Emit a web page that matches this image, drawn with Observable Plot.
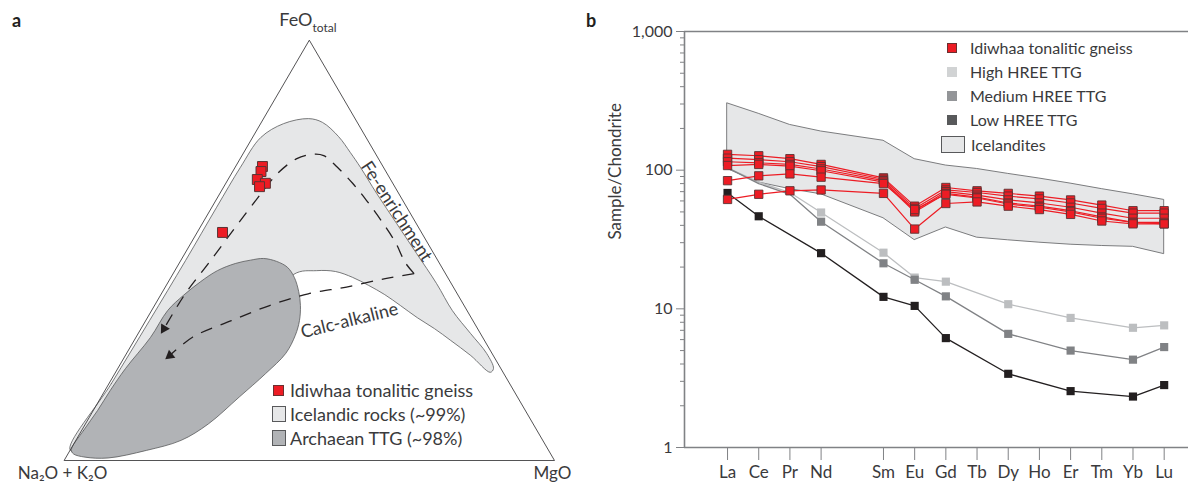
<!DOCTYPE html>
<html>
<head>
<meta charset="utf-8">
<script src="https://cdn.jsdelivr.net/npm/d3@7"></script>
<script src="https://cdn.jsdelivr.net/npm/@observablehq/plot@0.6"></script>
<style>
  body { margin: 0; background: #fff; }
  #wrap { position: relative; width: 1188px; height: 485px; overflow: hidden;
          font-family: Lato, "Open Sans", sans-serif; color: #3a3a3c; }
  #pa { position: absolute; left: 0; top: 0; }
  #pb { position: absolute; left: 600px; top: 0; }
  .panel { position: absolute; font-weight: bold; font-size: 18px; color: #231f20; line-height: 20px; }
  .lg { position: absolute; white-space: nowrap; line-height: 20px; }
  .sw { position: absolute; box-sizing: border-box; }
</style>
</head>
<body>
<div id="wrap">
  <div id="pa"></div>
  <div id="pb"></div>
  <div class="panel" style="left:12px;top:10px">a</div>
  <div class="panel" style="left:586px;top:10px">b</div>

  <!-- legend panel a -->
  <div class="sw" style="left:273px;top:385px;width:11px;height:11px;background:#ed1c24;border:1px solid #6b3030"></div>
  <div class="lg" style="left:290px;top:380px;font-size:18px">Idiwhaa tonalitic gneiss</div>
  <div class="sw" style="left:272px;top:406px;width:14px;height:16px;background:#e6e7e8;border:1px solid #58595b"></div>
  <div class="lg" style="left:290px;top:404px;font-size:18px">Icelandic rocks (~99%)</div>
  <div class="sw" style="left:272px;top:430px;width:14px;height:16px;background:#b1b3b6;border:1px solid #58595b"></div>
  <div class="lg" style="left:290px;top:428px;font-size:18px">Archaean TTG (~98%)</div>

  <!-- legend panel b -->
  <div class="sw" style="left:947px;top:43px;width:10px;height:10px;background:#ed1c24;border:1px solid #6b3030"></div>
  <div class="lg" style="left:970px;top:38px;font-size:16px">Idiwhaa tonalitic gneiss</div>
  <div class="sw" style="left:947px;top:67px;width:10px;height:10px;background:#d1d3d4"></div>
  <div class="lg" style="left:970px;top:62px;font-size:16px">High HREE TTG</div>
  <div class="sw" style="left:947px;top:91px;width:10px;height:10px;background:#939598"></div>
  <div class="lg" style="left:970px;top:86px;font-size:16px">Medium HREE TTG</div>
  <div class="sw" style="left:947px;top:115px;width:10px;height:10px;background:#58595b"></div>
  <div class="lg" style="left:970px;top:110px;font-size:16px">Low HREE TTG</div>
  <div class="sw" style="left:941px;top:136px;width:24px;height:17px;background:#e6e7e8;border:1px solid #58595b"></div>
  <div class="lg" style="left:971px;top:135px;font-size:16px">Icelandites</div>
</div>

<script>
// ---------------- Panel a: AFM ternary (values in wt% : FeO_total = F, MgO = M, Na2O+K2O = 100 - F - M)
const vertexNames = ["Na₂O + K₂O", "MgO", "FeO"];
const vertexF = [0, 0, 100];
const vertexM = [0, 100, 0];

const idiwhaaF = [70.0, 68.8, 66.9, 66.0, 65.2, 54.3];
const idiwhaaM = [5.4, 5.7, 5.9, 8.0, 7.2, 5.1];

const icelandicF = [2.4, 18.3, 33.3, 47.6, 60.3, 69.8, 76.9, 80.2, 81.4, 80.5, 77.1, 73.3, 69.8, 63.6, 56.4, 49.3, 42.1, 35.7, 30.2, 25.5, 21.9, 21.0,
                    25.0, 28.6, 31.4, 34.0, 36.9, 39.5, 41.7, 43.6, 45.0, 45.2, 44.3, 23.8, 9.5];
const icelandicM = [0.0, 0.4, 0.7, 0.9, 0.9, 1.0, 1.6, 4.6, 9.1, 12.4, 17.4, 21.7, 25.5, 31.9, 39.6, 47.2, 54.9, 61.3, 67.8, 73.4, 76.6, 76.4,
                    70.4, 64.5, 59.8, 55.0, 50.1, 45.6, 41.2, 37.0, 32.8, 28.8, 24.6, 22.0, 12.8];

const ttgF = [2.6, 7.1, 11.9, 16.7, 21.9, 29.3, 35.7, 39.3, 42.6, 45.2, 46.9, 47.7, 48.1, 47.4, 46.0, 43.6, 40.2, 36.9, 33.3, 29.8, 25.5, 20.7, 15.1, 8.7, 4.8, 2.4, 0.6, 0.8, 1.6];
const ttgM = [0.1, 0.3, 0.8, 1.0, 1.5, 2.9, 3.2, 4.6, 6.5, 8.6, 11.4, 14.1, 16.6, 19.6, 22.5, 25.1, 27.7, 29.7, 31.3, 32.2, 32.4, 30.7, 28.1, 25.0, 21.4, 15.5, 8.6, 3.8, 1.0];

const feTrendF = [44.5, 47.1, 51.9, 57.1, 61.9, 66.0, 69.8, 72.6, 72.9, 71.8, 68.3, 62.7, 55.5, 46.8, 39.7, 31.4];
const feTrendM = [49.1, 46.0, 41.6, 36.1, 30.7, 25.8, 20.8, 16.6, 14.1, 11.4, 9.3, 8.2, 7.1, 5.9, 4.8, 4.6];
const caTrendF = [44.5, 43.3, 41.3, 39.7, 36.9, 33.3, 29.4, 25.0];
const caTrendM = [49.1, 43.8, 36.9, 29.9, 23.4, 17.4, 11.5, 9.0];

const trendLabels = ["Fe-enrichment", "Calc-alkaline"];
const trendLabelF = [59.3, 33.3];
const trendLabelM = [38.1, 41.5];
const trendLabelAngle = [57, -14];

// ---------------- Panel b: chondrite-normalised REE
const elements = ["La","Ce","Pr","Nd","Sm","Eu","Gd","Tb","Dy","Ho","Er","Tm","Yb","Lu"];
const atomicNumber = [57, 58, 59, 60, 62, 63, 64, 65, 66, 67, 68, 69, 70, 71];

const idiwhaa1 = [130, 127, 121, 110, 88, 55, 75, 71, 68, 65, 61, 56, 51, 51];
const idiwhaa2 = [122, 119, 115, 106, 86, 53, 72, 69, 65, 62, 58, 53, 49, 49];
const idiwhaa3 = [115, 113, 110, 102, 84, 51, 70, 66, 61, 58, 54, 49, 45, 45];
const idiwhaa4 = [108, 110, 107, 99, 82, 50, 68, 64, 58, 55, 51, 46, 42, 42];
const idiwhaa5 = [84, 91, 94, 89, 80, 52, 67, 63, 57, 54, 50, 45, 42, 41];
const idiwhaa6 = [61.5, 67, 71, 72, 68, 37.6, 57.5, 59, 55, 52, 48, 43, 41, 41];

const highHREE   = [104, 82, 69, 49.5, 25.4, 16.8, 15.7, null, 10.8, null, 8.6, null, 7.3, 7.6];
const mediumHREE = [104, 80, 67, 42.5, 21.3, 16.2, 12.3, null, 6.6, null, 5.0, null, 4.3, 5.3];
const lowHREE    = [68.5, 46.5, null, 25.2, 12.2, 10.5, 6.15, null, 3.4, null, 2.55, null, 2.33, 2.82];
const highMarked   = ["Nd","Sm","Eu","Gd","Dy","Er","Yb","Lu"];
const mediumMarked = ["Nd","Sm","Eu","Gd","Dy","Er","Yb","Lu"];
const lowMarked    = ["La","Ce","Nd","Sm","Eu","Gd","Dy","Er","Yb","Lu"];

const icelanditesMax = [303, 255, 212, 190, 163, 120, 108, 102, 94, 87, 80, 73, 67, 61];
const icelanditesMin = [102, 81.5, 73, 67, 45, 31.3, 38.6, 32.6, 31.2, 30, 29, 28.4, 28, 24.8];

const yMajor = [1, 10, 100, 1000];
const yMinor = [2,3,4,5,6,7,8,9,20,30,40,50,60,70,80,90,200,300,400,500,600,700,800,900];

// ================= build panel a =================
const toXY = (F, M) => ({x: M + F / 2, y: F});
const zip = (Fs, Ms) => Fs.map((F, i) => toXY(F, Ms[i]));

const triangle = zip(vertexF, vertexM);
const icelandic = zip(icelandicF, icelandicM);
const ttg = zip(ttgF, ttgM);
const feTrend = zip(feTrendF, feTrendM);
const caTrend = zip(caTrendF, caTrendM);
const samples = zip(idiwhaaF, idiwhaaM);
const labels = trendLabels.map((t, i) => ({...toXY(trendLabelF[i], trendLabelM[i]), text: t, angle: trendLabelAngle[i]}));
const vtx = vertexNames.map((n, i) => ({...toXY(vertexF[i], vertexM[i]), name: n}));

const W_A = 600, H_A = 485, mL = 64, mR = 46, mT = 40, mB = 25;
const kx = (W_A - mL - mR) / 100, ky = (H_A - mT - mB) / 100;
function arrowAt(path) {
  const a = path[path.length - 2], b = path[path.length - 1];
  const dxp = (b.x - a.x) * kx, dyp = -(b.y - a.y) * ky;
  return {x: b.x, y: b.y, angle: Math.atan2(dxp, -dyp) * 180 / Math.PI};
}
const arrows = [arrowAt(feTrend), arrowAt(caTrend)];

const pa = Plot.plot({
  width: W_A, height: H_A,
  marginLeft: mL, marginRight: mR, marginTop: mT, marginBottom: mB,
  x: {domain: [0, 100], axis: null},
  y: {domain: [0, 100], axis: null},
  style: {fontFamily: "Lato, 'Open Sans', sans-serif", fontSize: "18px", color: "#3a3a3c", background: "transparent", overflow: "visible"},
  marks: [
    Plot.line(icelandic, {x: "x", y: "y", curve: "catmull-rom-closed", fill: "#e6e7e8", stroke: "#58595b", strokeWidth: 0.8}),
    Plot.line(ttg, {x: "x", y: "y", curve: "catmull-rom-closed", fill: "#b1b3b6", stroke: "#58595b", strokeWidth: 0.8}),
    Plot.line(triangle, {x: "x", y: "y", curve: "linear-closed", stroke: "#414042", strokeWidth: 0.9}),
    Plot.line(feTrend, {x: "x", y: "y", curve: "catmull-rom", stroke: "#231f20", strokeWidth: 1.3, strokeDasharray: "12,9", strokeLinecap: "butt"}),
    Plot.line(caTrend, {x: "x", y: "y", curve: "catmull-rom", stroke: "#231f20", strokeWidth: 1.3, strokeDasharray: "12,9", strokeLinecap: "butt"}),
    Plot.dot(arrows, {x: "x", y: "y", symbol: "triangle", r: 3.8, fill: "#231f20", stroke: "none", rotate: "angle"}),
    Plot.dot(samples, {x: "x", y: "y", symbol: "square", r: 5.6, fill: "#ed1c24", stroke: "#5a3434", strokeWidth: 1}),
    Plot.text(labels, {x: "x", y: "y", text: "text", rotate: "angle", fontSize: 18, fill: "#3a3a3c"}),
    Plot.text([vtx[2]], {x: "x", y: "y", text: "name", textAnchor: "end", dx: 3, dy: -20, fontSize: 18, fill: "#3a3a3c"}),
    Plot.text([vtx[2]], {x: "x", y: "y", text: () => "total", textAnchor: "start", dx: 3, dy: -12, fontSize: 12, fill: "#3a3a3c"}),
    Plot.text([vtx[0]], {x: "x", y: "y", text: "name", dx: -2, dy: 13, fontSize: 17, fill: "#3a3a3c"}),
    Plot.text([vtx[1]], {x: "x", y: "y", text: "name", dx: -2, dy: 13, fontSize: 17, fill: "#3a3a3c"})
  ]
});
document.getElementById("pa").appendChild(pa);

// ================= build panel b =================
const xMin = 55.62, xMax = 71.78;

const iceRows = elements.map((e, i) => ({z: atomicNumber[i], lo: icelanditesMin[i], hi: icelanditesMax[i]}));
const redSeries = [idiwhaa1, idiwhaa2, idiwhaa3, idiwhaa4, idiwhaa5, idiwhaa6];
const redRows = redSeries.flatMap((vals, s) => vals.map((v, i) => ({s, z: atomicNumber[i], v})));

const ttgDefs = [
  {name: "High HREE TTG", vals: highHREE, marked: highMarked, color: "#bcbec0"},
  {name: "Medium HREE TTG", vals: mediumHREE, marked: mediumMarked, color: "#808285"},
  {name: "Low HREE TTG", vals: lowHREE, marked: lowMarked, color: "#231f20"}
];
const ttgMarks = ttgDefs.flatMap(d => {
  const rows = d.vals.map((v, i) => ({z: atomicNumber[i], el: elements[i], v})).filter(r => r.v != null);
  return [
    Plot.line(rows, {x: "z", y: "v", stroke: d.color, strokeWidth: 1.3}),
    Plot.dot(rows.filter(r => d.marked.includes(r.el)), {x: "z", y: "v", symbol: "square", r: 4.6, fill: d.color, stroke: "none"})
  ];
});

const pb = Plot.plot({
  width: 588, height: 485,
  marginLeft: 84, marginRight: 0, marginTop: 31, marginBottom: 38,
  x: {domain: [xMin, xMax]},
  y: {type: "log", domain: [1, 1000]},
  style: {fontFamily: "Lato, 'Open Sans', sans-serif", fontSize: "16px", color: "#3a3a3c", background: "transparent", overflow: "visible"},
  marks: [
    Plot.areaY(iceRows, {x: "z", y1: "lo", y2: "hi", fill: "#e6e7e8", stroke: "#6d6e71", strokeWidth: 0.9}),
    Plot.ruleY([1, 1000], {stroke: "#808285", strokeWidth: 1.4}),
    Plot.ruleX([xMin], {y1: 1, y2: 1000, stroke: "#808285", strokeWidth: 1.6}),
    Plot.axisY({ticks: yMajor, tickSize: 8, tickPadding: 4, tickFormat: d3.format(","), stroke: "#808285", fill: "#3a3a3c", label: null, fontSize: 16}),
    Plot.axisY({ticks: yMinor, tickSize: 4, tickFormat: () => "", stroke: "#808285", label: null}),
    Plot.axisX({ticks: atomicNumber, tickSize: 13, tickPadding: 5, tickFormat: z => elements[atomicNumber.indexOf(z)], stroke: "#808285", fill: "#3a3a3c", label: null, fontSize: 17}),
    ...ttgMarks,
    Plot.line(redRows, {x: "z", y: "v", z: "s", stroke: "#ed1c24", strokeWidth: 1.2}),
    Plot.dot(redRows, {x: "z", y: "v", symbol: "square", r: 4.7, fill: "#ed1c24", stroke: "#5a3434", strokeWidth: 0.9}),
    Plot.text(["Sample/Chondrite"], {frameAnchor: "left", text: d => d, rotate: -90, dx: -69, fontSize: 17, fill: "#3a3a3c"})
  ]
});
document.getElementById("pb").appendChild(pb);
</script>
</body>
</html>
